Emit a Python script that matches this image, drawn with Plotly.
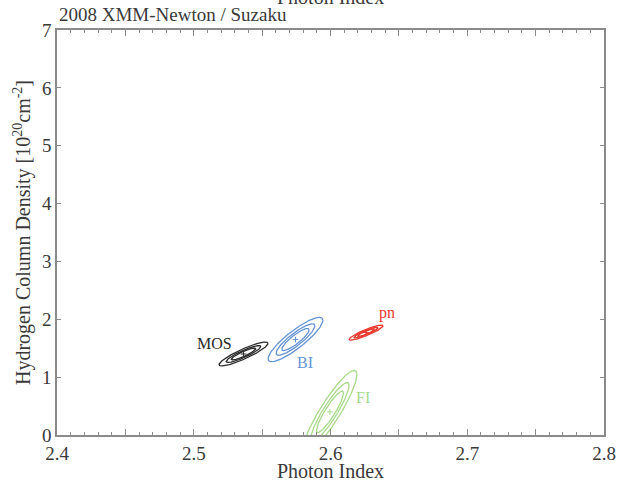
import numpy as np
import plotly.graph_objects as go

# Best-fit photon index / column density and 1-sigma widths for each detector
detectors = ["MOS", "BI", "pn", "FI"]
gamma_best = [2.5364, 2.5744, 2.626, 2.5996]
nh_best = [1.40, 1.65, 1.77, 0.40]
sigma_gamma = [0.0059, 0.0066, 0.0041, 0.0065]
sigma_nh = [0.068, 0.126, 0.043, 0.236]
correlation = [0.89, 0.87, 0.90, 0.90]
colors = ["#2b2b2b", "#6494d6", "#e8392e", "#a8d98a"]

# Delta chi-square levels: 68%, 90%, 99% for two parameters
dchi2_levels = [2.30, 4.61, 9.21]

# Label positions (photon index, NH)
label_x = [2.5155, 2.5814, 2.6413, 2.6238]
label_y = [1.573, 1.26, 2.11, 0.64]

x_tickvals = [2.4, 2.5, 2.6, 2.7, 2.8]
x_ticktext = ["2.4", "2.5", "2.6", "2.7", "2.8"]
x_midticks = [2.45, 2.55, 2.65, 2.75]
y_tickvals = [0, 1, 2, 3, 4, 5, 6, 7]

serif = "Liberation Serif"
text_color = "#3a3a3a"
axis_color = "#8a8a8a"

fig = go.Figure()
t = np.linspace(0, 2 * np.pi, 241)
for i, name in enumerate(detectors):
    rho = correlation[i]
    for lvl in dchi2_levels:
        r = np.sqrt(lvl)
        xs = gamma_best[i] + r * sigma_gamma[i] * np.cos(t)
        ys = nh_best[i] + r * sigma_nh[i] * (rho * np.cos(t) + np.sqrt(1 - rho ** 2) * np.sin(t))
        fig.add_trace(go.Scatter(x=xs, y=ys, mode="lines",
                                 line=dict(color=colors[i], width=1.3),
                                 showlegend=False, hoverinfo="skip"))
    fig.add_trace(go.Scatter(x=[gamma_best[i]], y=[nh_best[i]], mode="markers",
                             marker=dict(symbol="cross-thin", size=4,
                                         line=dict(color=colors[i], width=1)),
                             showlegend=False))
    fig.add_annotation(x=label_x[i], y=label_y[i], text=name, showarrow=False,
                       font=dict(family=serif, size=16, color=colors[i]))

# Invisible trace on a second x axis carrying the half-step ticks
fig.add_trace(go.Scatter(x=[2.4, 2.8], y=[0, 0], xaxis="x2", mode="markers",
                         marker=dict(opacity=0), showlegend=False, hoverinfo="skip"))

fig.add_annotation(xref="paper", yref="paper", x=0.0, y=1.0, yshift=3,
                   xanchor="left", yanchor="bottom", showarrow=False,
                   text="2008 XMM-Newton / Suzaku",
                   font=dict(family=serif, size=19, color=text_color))
fig.add_annotation(xref="paper", yref="paper", x=0.5, y=1.0, yshift=20,
                   xanchor="center", yanchor="bottom", showarrow=False,
                   text="Photon Index",
                   font=dict(family=serif, size=20, color=text_color))

fig.update_layout(
    xaxis=dict(range=[2.4, 2.8], tickvals=x_tickvals, ticktext=x_ticktext,
               ticks="inside", ticklen=6, tickcolor=axis_color, tickwidth=1,
               minor=dict(dtick=0.01, ticks="inside", ticklen=3,
                          tickcolor=axis_color, tickwidth=1),
               showline=True, linecolor=axis_color, linewidth=1.5, mirror="ticks",
               showgrid=False, zeroline=False, automargin=False,
               tickfont=dict(family=serif, size=19, color=text_color),
               title=dict(text="Photon Index", standoff=2,
                          font=dict(family=serif, size=20, color=text_color))),
    xaxis2=dict(range=[2.4, 2.8], overlaying="x", side="bottom", anchor="y",
                tickvals=x_midticks, showticklabels=False,
                ticks="inside", ticklen=6, tickcolor=axis_color, tickwidth=1,
                showline=False, mirror="ticks", showgrid=False, zeroline=False,
                automargin=False),
    yaxis=dict(range=[0, 7], tickvals=y_tickvals,
               ticks="inside", ticklen=4, tickcolor=axis_color, tickwidth=1,
               showline=True, linecolor=axis_color, linewidth=1.5, mirror="ticks",
               showgrid=False, zeroline=False, automargin=False,
               tickfont=dict(family=serif, size=19, color=text_color),
               title=dict(text="Hydrogen Column Density [10<sup>20</sup>cm<sup>-2</sup>]",
                          standoff=6,
                          font=dict(family=serif, size=20, color=text_color))),
    width=619, height=482,
    font=dict(family=serif, color=text_color),
    margin=dict(l=57, r=15, t=30, b=47),
    paper_bgcolor="white", plot_bgcolor="white")

fig.write_html("out.html")
